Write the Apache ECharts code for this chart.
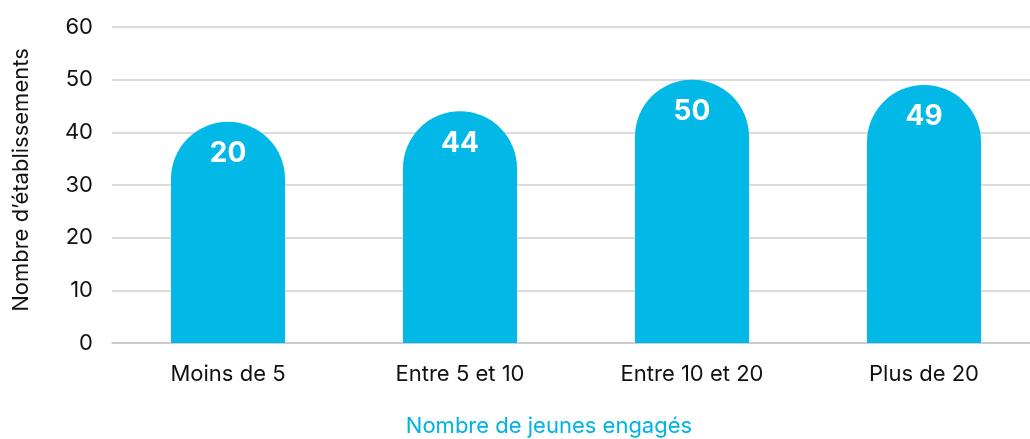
<!DOCTYPE html>
<html>
<head>
<meta charset="utf-8">
<script src="https://cdn.jsdelivr.net/npm/echarts@6/dist/echarts.min.js"></script>
<style>
html, body { margin: 0; padding: 0; background: #fff; }
#chart { width: 1030px; height: 439px; }
</style>
</head>
<body>
<div id="chart"></div>
<script>
// categories and values
var categories = ['Moins de 5', 'Entre 5 et 10', 'Entre 10 et 20', 'Plus de 20'];
var barHeights = [42, 44, 50, 49];      // drawn height of each bar
var barLabels = ['20', '44', '50', '49']; // text printed in each bar
var yTicks = [0, 10, 20, 30, 40, 50, 60];

var font = 'Inter';
var blue = '#02b8e6';

var myChart = echarts.init(document.getElementById('chart'));

var option = {
    animation: false,
    textStyle: { fontFamily: font },
    title: {
        text: 'Nombre de jeunes engagés',
        left: 544,
        textAlign: 'center',
        top: 410,
        textStyle: {
            color: '#00b4e1',
            fontFamily: font,
            fontWeight: 'normal',
            fontSize: 22
        }
    },
    grid: {
        left: 112,
        top: 27,
        width: 928,
        height: 316,
        outerBoundsMode: 'none'
    },
    xAxis: {
        type: 'category',
        data: categories,
        axisTick: { show: false },
        axisLine: { show: true, lineStyle: { color: '#c8c8c8', width: 1.5 } },
        axisLabel: {
            color: '#111',
            fontSize: 22,
            margin: 20
        }
    },
    yAxis: {
        type: 'value',
        min: yTicks[0],
        max: yTicks[yTicks.length - 1],
        interval: 10,
        name: 'Nombre d\u2019établissements',
        nameLocation: 'middle',
        nameGap: 80,
        nameTextStyle: { color: '#111', fontSize: 22, padding: [0, 0, 0, 10] },
        axisLine: { show: false },
        axisTick: { show: false },
        axisLabel: { color: '#111', fontSize: 22, margin: 19 },
        splitLine: { lineStyle: { color: '#cfcfcf', width: 1.5 } }
    },
    series: [{
        type: 'bar',
        data: barHeights,
        barWidth: 114,
        itemStyle: {
            color: blue,
            borderRadius: [57, 57, 0, 0]
        },
        label: {
            show: true,
            position: 'insideTop',
            distance: 18,
            color: '#fff',
            fontSize: 28,
            fontWeight: 'bold',
            formatter: function (p) { return barLabels[p.dataIndex]; }
        }
    }]
};

myChart.setOption(option);
</script>
</body>
</html>
